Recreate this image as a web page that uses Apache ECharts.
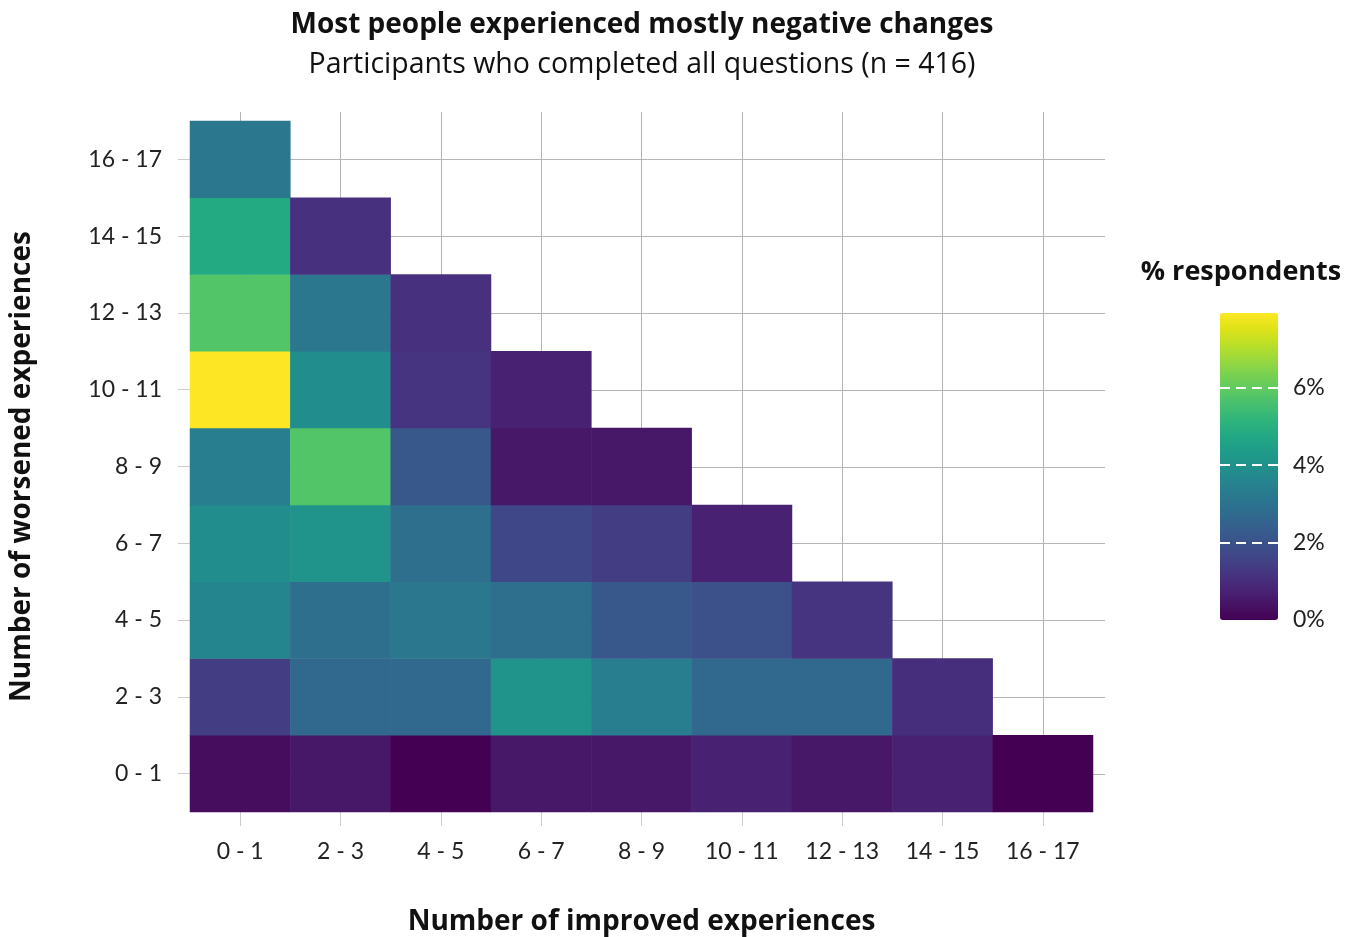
<!DOCTYPE html>
<html>
<head>
<meta charset="utf-8">
<title>Improved vs worsened experiences</title>
<script src="https://cdn.jsdelivr.net/npm/echarts@6/dist/echarts.min.js"></script>
<style>
  html, body { margin: 0; padding: 0; background: #fff; }
  #chart { width: 1355px; height: 937px; }
</style>
</head>
<body>
<div id="chart"></div>
<script>
// bins used on both axes
const improvedBins = ["0 - 1", "2 - 3", "4 - 5", "6 - 7", "8 - 9", "10 - 11", "12 - 13", "14 - 15", "16 - 17"];
const worsenedBins = ["0 - 1", "2 - 3", "4 - 5", "6 - 7", "8 - 9", "10 - 11", "12 - 13", "14 - 15", "16 - 17"];

// % respondents for each improved bin, listed from worsened "0 - 1" upward
const improved0_1 = [0.24, 1.44, 3.61, 3.85, 3.37, 7.93, 5.77, 4.81, 3.13];
const improved2_3 = [0.48, 2.64, 2.88, 4.09, 5.77, 3.85, 3.13, 1.08];
const improved4_5 = [0.00, 2.64, 3.13, 2.88, 2.16, 1.20, 1.08];
const improved6_7 = [0.48, 4.09, 2.88, 1.68, 0.48, 0.72];
const improved8_9 = [0.48, 3.37, 2.16, 1.44, 0.48];
const improved10_11 = [0.72, 2.64, 1.92, 0.72];
const improved12_13 = [0.48, 2.64, 1.20];
const improved14_15 = [0.72, 1.04];
const improved16_17 = [0.00];

const legendTicks = [0, 2, 4, 6];

const columns = [improved0_1, improved2_3, improved4_5, improved6_7, improved8_9,
                 improved10_11, improved12_13, improved14_15, improved16_17];

const viridis = ["#440154", "#471365", "#482475", "#463480", "#414487", "#3b528b", "#355f8d",
                 "#2f6c8e", "#2a788e", "#25848e", "#21918c", "#1e9c89", "#22a884", "#2fb47c",
                 "#44bf70", "#5ec962", "#7ad151", "#9bd93c", "#bddf26", "#dfe318", "#fde725"];

function initHeatmap() {
  const chart = echarts.init(document.getElementById("chart"), null, { renderer: "canvas" });

  const cells = [];
  columns.forEach(function (col, x) {
    col.forEach(function (v, y) { cells.push([x, y, v]); });
  });
  const maxPct = Math.max.apply(null, cells.map(function (c) { return c[2]; }));

  const font = "Lato";
  const headFont = "Open Sans";
  const gridLine = { show: true, lineStyle: { color: "#b4b4b4", width: 1 } };

  const option = {
    animation: false,
    textStyle: { fontFamily: font },
    title: [
      {
        text: "Most people experienced mostly negative changes",
        left: 642, top: 11, textAlign: "center", padding: 0,
        textStyle: { fontFamily: headFont, fontSize: 28, fontWeight: "bold", color: "#111" }
      },
      {
        text: "Participants who completed all questions (n = 416)",
        left: 642, top: 50, textAlign: "center", padding: 0,
        textStyle: { fontFamily: headFont, fontSize: 28.5, fontWeight: "normal", color: "#111" }
      },
      {
        text: "% respondents",
        left: 1241, top: 259, textAlign: "center", padding: 0,
        textStyle: { fontFamily: headFont, fontSize: 27, fontWeight: "bold", color: "#111" }
      }
    ],
    grid: [
      { left: 190, top: 121, width: 903, height: 691, outerBoundsMode: "none" },      // heatmap
      { left: 240, top: 112, width: 803, height: 700, outerBoundsMode: "none" },      // vertical guides
      { left: 190, top: 159.5, width: 915, height: 614.5, outerBoundsMode: "none" },  // horizontal guides
      { left: 1220, top: 313, width: 58, height: 307, outerBoundsMode: "none" }       // legend scale
    ],
    xAxis: [
      {
        type: "category", gridIndex: 0, data: improvedBins,
        name: "Number of improved experiences", nameLocation: "middle", nameGap: 96,
        nameTextStyle: { fontFamily: headFont, fontSize: 28, fontWeight: "bold", color: "#111" },
        axisLine: { show: false },
        axisTick: { show: true, alignWithLabel: true, length: 14, interval: 0, lineStyle: { color: "#cccccc" } },
        axisLabel: { interval: 0, margin: 28, fontSize: 23, color: "#222", fontFamily: font },
        splitLine: { show: false }
      },
      {
        type: "value", gridIndex: 1, min: 0, max: 8, interval: 1,
        axisLine: { show: false }, axisTick: { show: false }, axisLabel: { show: false },
        splitLine: gridLine
      },
      {
        type: "value", gridIndex: 2, min: 0, max: 1, show: false
      },
      {
        type: "value", gridIndex: 3, min: 0, max: 1, show: false
      }
    ],
    yAxis: [
      {
        type: "category", gridIndex: 0, data: worsenedBins,
        name: "Number of worsened experiences", nameLocation: "middle", nameGap: 154,
        nameTextStyle: { fontFamily: headFont, fontSize: 28, fontWeight: "bold", color: "#111" },
        axisLine: { show: false },
        axisTick: { show: true, alignWithLabel: true, length: 12, interval: 0, lineStyle: { color: "#cccccc" } },
        axisLabel: { interval: 0, margin: 28, fontSize: 23, color: "#222", fontFamily: font },
        splitLine: { show: false }
      },
      {
        type: "value", gridIndex: 1, min: 0, max: 1, show: false
      },
      {
        type: "value", gridIndex: 2, min: 0, max: 8, interval: 1,
        axisLine: { show: false }, axisTick: { show: false }, axisLabel: { show: false },
        splitLine: gridLine
      },
      {
        type: "value", gridIndex: 3, min: 0, max: maxPct, interval: 2, position: "right", z: 10,
        axisLine: { show: false }, axisTick: { show: false },
        axisLabel: {
          margin: 15, fontSize: 23, color: "#222", fontFamily: font,
          formatter: function (v) { return legendTicks.indexOf(v) >= 0 ? v + "%" : ""; }
        },
        splitLine: {
          show: true, showMinLine: false, showMaxLine: false,
          lineStyle: { color: "#ffffff", width: 2, type: [10, 6] }
        }
      }
    ],
    visualMap: {
      type: "continuous",
      seriesIndex: 0,
      min: 0, max: maxPct,
      orient: "vertical",
      left: 1220, top: 313,
      itemWidth: 58, itemHeight: 307,
      padding: 0,
      calculable: false,
      hoverLink: false,
      text: null,
      showLabel: false,
      inRange: { color: viridis }
    },
    series: [
      {
        name: "% respondents",
        type: "heatmap",
        xAxisIndex: 0, yAxisIndex: 0,
        data: cells,
        itemStyle: { borderWidth: 0 },
        emphasis: { disabled: true }
      }
    ]
  };
  chart.setOption(option);
}

document.addEventListener("DOMContentLoaded", function () {
  initHeatmap();
});
</script>
</body>
</html>
